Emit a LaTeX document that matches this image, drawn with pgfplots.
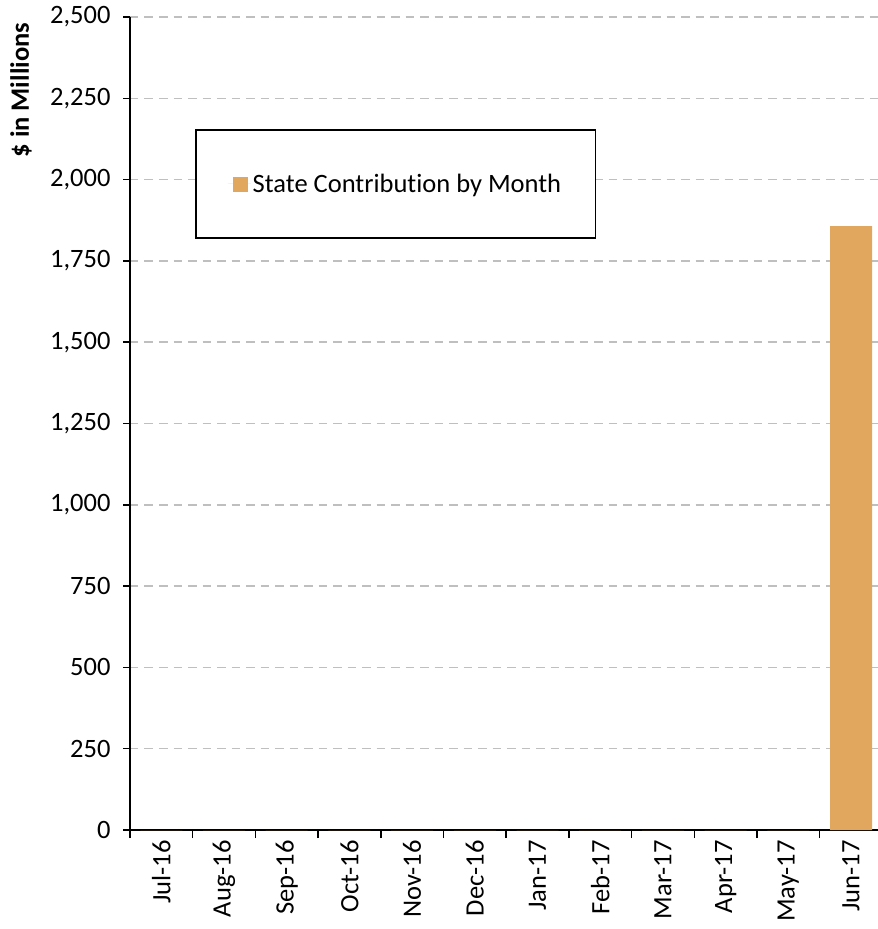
\documentclass[border=0pt]{standalone}
\usepackage{fontspec}
\setmainfont{Carlito}[Ligatures=NoCommon]
\usepackage{pgfplots}
\pgfplotsset{compat=1.18}
\definecolor{barc}{RGB}{226,167,94}
\definecolor{gridc}{RGB}{191,191,191}
\begin{document}
\begin{tikzpicture}[x=1pt,y=1pt]
\path[use as bounding box] (0,0) rectangle (878,929);
\begin{axis}[
  at={(130pt,99pt)}, anchor=south west,
  scale only axis, width=748pt, height=813pt,
  xmin=-0.5, xmax=11.43, ymin=0, ymax=2500,
  axis lines=left, axis line style={-, line width=1.5pt, black},
  ybar, bar width=42pt,
  ytick={0,250,...,2500},
  ymajorgrids, grid style={gridc, dash pattern=on 8.5pt off 6pt, line width=1.5pt},
  xtick={0,...,11},
  xticklabels={Jul-16,Aug-16,Sep-16,Oct-16,Nov-16,Dec-16,Jan-17,Feb-17,Mar-17,Apr-17,May-17,Jun-17},
  x tick label style={rotate=90, anchor=east},
  major x tick style={draw=none},
  minor xtick={-0.5,0.5,...,10.5},
  minor x tick style={black, line width=1.5pt},
  minor tick length=8pt, major tick length=7pt,
  tick align=outside,
  y tick style={black, line width=1.5pt},
  every tick label/.append style={font=\fontsize{26.5pt}{30pt}\selectfont},
  y tick label style={xshift=-9pt},
  /pgf/number format/.cd, 1000 sep={,}, assume math mode=true, /pgfplots/.cd,
  ylabel={\textbf{\$ in Millions}},
  ylabel style={at={(axis description cs:-0.1457,0.910)}, anchor=center, font=\fontsize{26.5pt}{30pt}\selectfont},
  legend style={at={(axis description cs:0.0869,0.862)}, anchor=north west, draw=black, line width=1.5pt,
    inner xsep=32pt, inner ysep=42pt, font=\fontsize{26.5pt}{30pt}\selectfont},
  legend image code/.code={\path (0pt,0pt) -- (23pt,0pt); \fill[#1] (5pt,-8pt) rectangle (20pt,7pt);},
]
\addplot[fill=barc, draw=none] coordinates {(0,0) (1,0) (2,0) (3,0) (4,0) (5,0) (6,0) (7,0) (8,0) (9,0) (10,0) (11,1857)};
\addlegendentry{State Contribution by Month}
\end{axis}
\end{tikzpicture}
\end{document}
